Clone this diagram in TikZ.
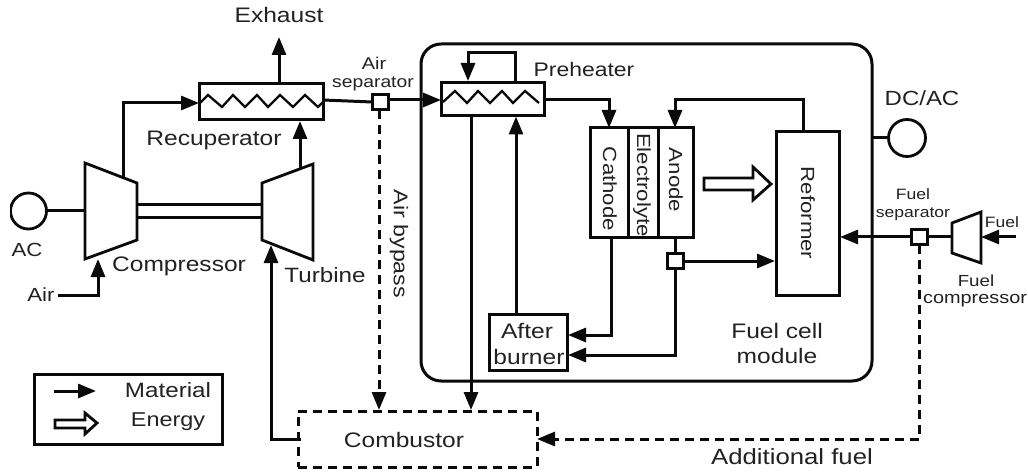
\documentclass[tikz,border=0pt]{standalone}
\usepackage{fontspec}
\setmainfont[FakeStretch=1.17]{Liberation Sans}
\usetikzlibrary{arrows.meta}
\definecolor{ink}{HTML}{0A0A0A}
\definecolor{txt}{HTML}{222222}
\tikzset{
  x=1pt,y=-1pt,
  ln/.style={line width=3pt,draw=ink,line cap=butt,line join=miter},
  arr/.style={ln,-{Triangle[length=18pt,width=14pt]}},
  dsh/.style={ln,dash pattern=on 9pt off 6pt},
  darr/.style={dsh,-{Triangle[length=18pt,width=14pt,sep=0pt]}},
  boxn/.style={draw=ink,line width=3pt,fill=white,inner sep=0pt,outer sep=0pt,minimum width=#1},
  hh/.style={minimum height=#1},
  sep/.style={draw=ink,line width=3pt,fill=white,inner sep=0pt,outer sep=0pt,minimum width=16pt,minimum height=15pt},
  lab/.style={text=txt,inner sep=0pt,align=center,font=\fontsize{#1}{#1}\selectfont},
}
\begin{document}
\begin{tikzpicture}
\useasboundingbox[fill=white] (0,0) rectangle (1028,473);

% fuel cell module
\node[boxn=451pt,hh=337pt,rounded corners=20pt,fill=none] (mod) at (646.5,212.5) {};

% heat exchangers
\node[boxn=124pt,hh=36pt] (rec) at (261,102) {};
\node[boxn=103pt,hh=33pt] (pre) at (492.5,99.5) {};
\draw[line width=2.3pt,draw=ink] (199,104)--(208,95)--(222,107)--(233,95)--(245,107)--(257,95)--(268,107)--(280,95)--(293,107)--(305,95)--(318,107)--(323,102);
\draw[line width=2.3pt,draw=ink] (443,102)--(455,91)--(467,103)--(478,91)--(490,103)--(502,91)--(513,103)--(525,91)--(539,103);

% compressor and turbine
\draw[line width=2.8pt,draw=ink] (85,163)--(137,183)--(137,240)--(85,259)--cycle;
\draw[line width=2.8pt,draw=ink] (262,183)--(313,164)--(313,260)--(262,240)--cycle;
\draw[line width=2.8pt,draw=ink] (952,223)--(981,212)--(981,263)--(952,253)--cycle;
\coordinate (cmpL) at (85,211);
\coordinate (cmpB) at (98,259);
\coordinate (cmpT) at (123,178);
\coordinate (trbT) at (300,168);
\coordinate (trbB) at (271,245);
\coordinate (shA1) at (137,205);
\coordinate (shA2) at (262,205);
\coordinate (shB1) at (137,218);
\coordinate (shB2) at (262,218);
\draw[ln] (shA1)--(shA2);
\draw[ln] (shB1)--(shB2);

% generators
\begin{scope}
\clip (10,185) rectangle (60,235);
\node[draw=ink,line width=2.8pt,circle,minimum size=36pt,inner sep=0pt,outer sep=0pt] (ac) at (28.5,211) {};
\end{scope}
\node[draw=ink,line width=2.8pt,circle,minimum size=37pt,inner sep=0pt,outer sep=0pt] (dcac) at (907,138) {};

% fuel cell stack
\node[boxn=38pt,hh=110pt] (cath) at (609,183) {};
\node[boxn=30pt,hh=110pt] (elec) at (643,183) {};
\node[boxn=35pt,hh=110pt] (anod) at (675.5,183) {};
\node[boxn=63pt,hh=163pt] (refm) at (807.5,213.5) {};
\node[boxn=78pt,hh=56pt] (aft) at (528,342) {};

% combustor
\node[draw=ink,line width=3pt,dash pattern=on 9pt off 6pt,inner sep=0pt,outer sep=0pt,minimum width=239pt,minimum height=56pt] (comb) at (417.5,439) {};

% separators
\node[sep] (asep) at (380,102) {};
\node[sep] (asb) at (675,261) {};
\node[sep] (fsep) at (919,237) {};

% free ends and bends
\coordinate (exh) at (279,37);
\coordinate (air) at (58,295);
\coordinate (fuel) at (1016,237);
\coordinate (fcr) at (952,237);
\coordinate (fcl) at (981,237);

% connectors
\draw[ln] (ac.east)--(cmpL);
\draw[arr] (air)-|(cmpB);
\draw[arr] (cmpT)|-(199,103);
\draw[arr] (279,84)--(exh);
\draw[arr] (trbT)--(300,121);
\draw[ln] (323,100)--(asep.west);
\draw[arr] (asep.east|-0,100)--(441,100);
\draw[arr] (515,83)--(515,53)--(468,53)--(468,81);
\draw[arr] (544,100)--(609,100)--(cath.north);
\draw[arr] (803,132)--(803,100)--(675,100)--(anod.north-|675,0);
\draw[arr] (516,314)--(516,116.5);
\draw[arr] (471,116)--(471,410);
\draw[darr] (379,110)--(379,410);
\draw[arr] (301,439)--(271,439)--(trbB);
\draw[ln] (675,238)--(asb.north);
\draw[arr] (asb.east)--(775,261);
\draw[arr] (asb.south)--(675,355)--(568,355);
\draw[arr] (611,238)--(611,335)--(568,335);
\draw[ln] (dcac.west)--(872,138);
\draw[ln] (fcr)--(fsep.east);
\draw[arr] (fsep.west)--(840,237);
\draw[arr] (fuel)--(fcl);
\draw[darr] (fsep.south)--(919,439)--(comb.east);

% energy arrow
\draw[line width=2.8pt,draw=ink,fill=white] (704,178)--(753,178)--(753,167)--(771,184)--(753,200)--(753,190)--(704,190)--cycle;

% legend
\node[boxn=188pt,hh=70pt,fill=none] (leg) at (128,409) {};
\coordinate (lgA) at (54,391);
\coordinate (lgB) at (96,391);
\draw[arr] (lgA)--(lgB);
\draw[line width=2.8pt,draw=ink,fill=white] (55,420)--(85,420)--(85,413)--(97,423)--(85,434)--(85,428)--(55,428)--cycle;

% labels
\node[lab=21] (t1) at (279,15) {Exhaust};
\node[lab=21] (t2) at (214,140) {Recuperator};
\node[lab=17,align=center] (t3) at (374,63) {Air};
\node[lab=16.5] (t4) at (373,84) {separator};
\node[lab=19.6] (t5) at (584,69) {Preheater};
\node[lab=20.5] (t6) at (922,98) {DC/AC};
\node[lab=19] (t7) at (27,250) {AC};
\node[lab=19] (t8) at (41,295) {Air};
\node[lab=21] (t9) at (179,266) {Compressor};
\node[lab=20.7] (t10) at (325,275) {Turbine};
\node[lab=19.8,rotate=-90] (t11) at (399,244) {Air bypass};
\node[lab=19,rotate=-90] (t12) at (610,189) {Cathode};
\node[lab=19,rotate=-90] (t13) at (642,185) {Electrolyte};
\node[lab=19,rotate=-90] (t14) at (676,180) {Anode};
\node[lab=19,rotate=-90] (t15) at (808,213) {Reformer};
\node[lab=21] (t16) at (527,331) {After};
\node[lab=21] (t17) at (529,357) {burner};
\node[lab=21] (t18) at (777,331) {Fuel cell};
\node[lab=21] (t19) at (777,356) {module};
\node[lab=15] (t20) at (913,194) {Fuel};
\node[lab=15] (t21) at (913,214) {separator};
\node[lab=15] (t22) at (1002,222) {Fuel};
\node[lab=16] (t23) at (976,281) {Fuel};
\node[lab=17] (t24) at (975,301) {compressor};
\node[lab=21] (t25) at (404,440) {Combustor};
\node[lab=22] (t26) at (792,457) {Additional fuel};
\node[lab=20.7] (t27) at (168,390) {Material};
\node[lab=20] (t28) at (168,422) {Energy};
\end{tikzpicture}
\end{document}
